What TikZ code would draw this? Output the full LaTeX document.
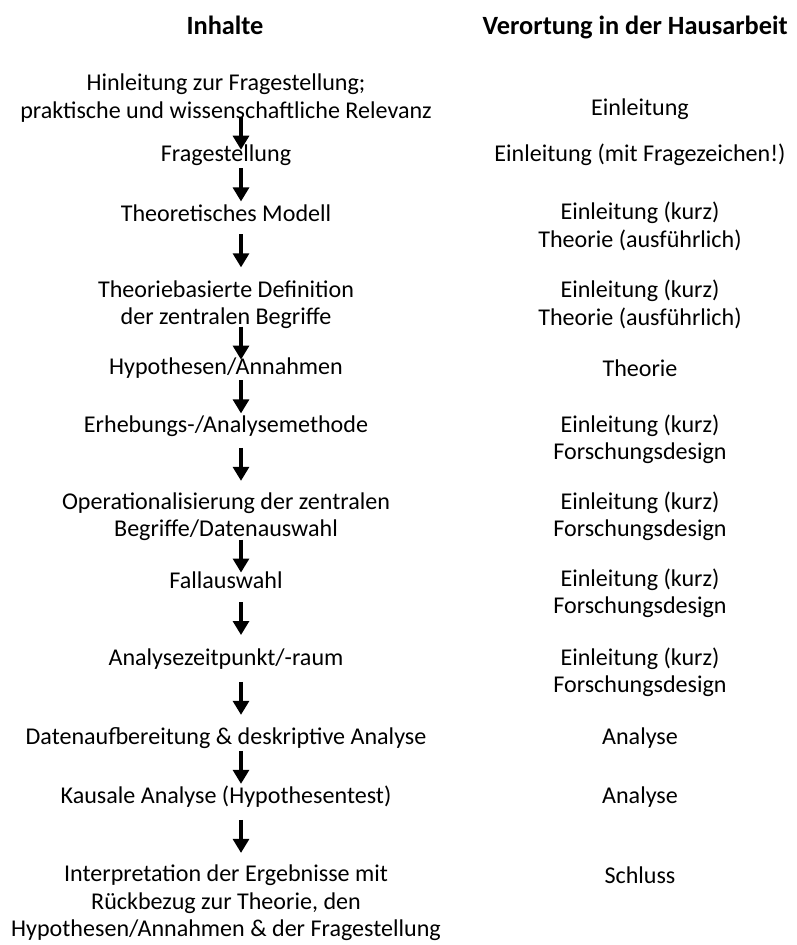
\documentclass[tikz,border=0pt]{standalone}
\usepackage{fontspec}
\setmainfont{Carlito}
\usepackage{tikz}
\usetikzlibrary{arrows.meta, calc}
\tikzstyle{content} = [align=center, inner sep=0pt, font=\fontsize{13.7}{15.6}\selectfont]
\tikzstyle{header} = [content, font=\fontsize{15}{18}\selectfont\bfseries]
\tikzstyle{arrow} = [line width=2.3pt, -{Triangle[width=9pt,length=8pt]}]

\begin{document}
\begin{tikzpicture}[x=0.02cm, y=-0.02cm]
\useasboundingbox (0,0) rectangle (796,945);

\node (h1) [header] at (225,25) {Inhalte};
\node (h2) [header, anchor=east] at (788,27) {Verortung in der Hausarbeit};

% Level 1
\node (l1) [content] at (226,98) {Hinleitung zur Fragestellung;\\praktische und wissenschaftliche Relevanz};
\node (r1) [content] at (640,109) {Einleitung};

% Level 2
\node (l2) [content] at (226,155) {Fragestellung};
\node (r2) [content] at (640,155) {Einleitung (mit Fragezeichen!)};

% Level 3
\node (l3) [content] at (226,213) {Theoretisches Modell};
\node (r3) [content] at (640,226.5) {Einleitung (kurz)\\Theorie (ausführlich)};

% Level 4
\node (l4) [content] at (226,304.5) {Theoriebasierte Definition\\der zentralen Begriffe};
\node (r4) [content] at (640,304.5) {Einleitung (kurz)\\Theorie (ausführlich)};

% Level 5
\node (l5) [content] at (226,368) {Hypothesen/Annahmen};
\node (r5) [content] at (640,368) {Theorie};

% Level 6
\node (l6) [content] at (226,426) {Erhebungs-/Analysemethode};
\node (r6) [content] at (640,439.5) {Einleitung (kurz)\\Forschungsdesign};

% Level 7
\node (l7) [content] at (226,516.5) {Operationalisierung der zentralen\\Begriffe/Datenauswahl};
\node (r7) [content] at (640,516.5) {Einleitung (kurz)\\Forschungsdesign};

% Level 8
\node (l8) [content] at (226,580) {Fallauswahl};
\node (r8) [content] at (640,593.5) {Einleitung (kurz)\\Forschungsdesign};

% Level 9
\node (l9) [content] at (226,659) {Analysezeitpunkt/-raum};
\node (r9) [content] at (640,672.5) {Einleitung (kurz)\\Forschungsdesign};

% Level 10
\node (l10) [content] at (226,738) {Datenaufbereitung \& deskriptive Analyse};
\node (r10) [content] at (640,738) {Analyse};

% Level 11
\node (l11) [content] at (226,797) {Kausale Analyse (Hypothesentest)};
\node (r11) [content] at (640,797) {Analyse};

% Level 12
\node (l12) [content] at (226,903) {Interpretation der Ergebnisse mit\\Rückbezug zur Theorie, den\\Hypothesen/Annahmen \& der Fragestellung};
\node (r12) [content] at (640,875) {Schluss};

% Arrows
\foreach \a/\b in {l1/l2, l2/l3, l3/l4, l4/l5, l5/l6, l6/l7, l7/l8, l8/l9, l9/l10, l10/l11, l11/l12}
  \draw [arrow] ($(\a.south)!0.5!(\b.north)$) ++(15,-16.5) -- ++(0,33);

\end{tikzpicture}
\end{document}
